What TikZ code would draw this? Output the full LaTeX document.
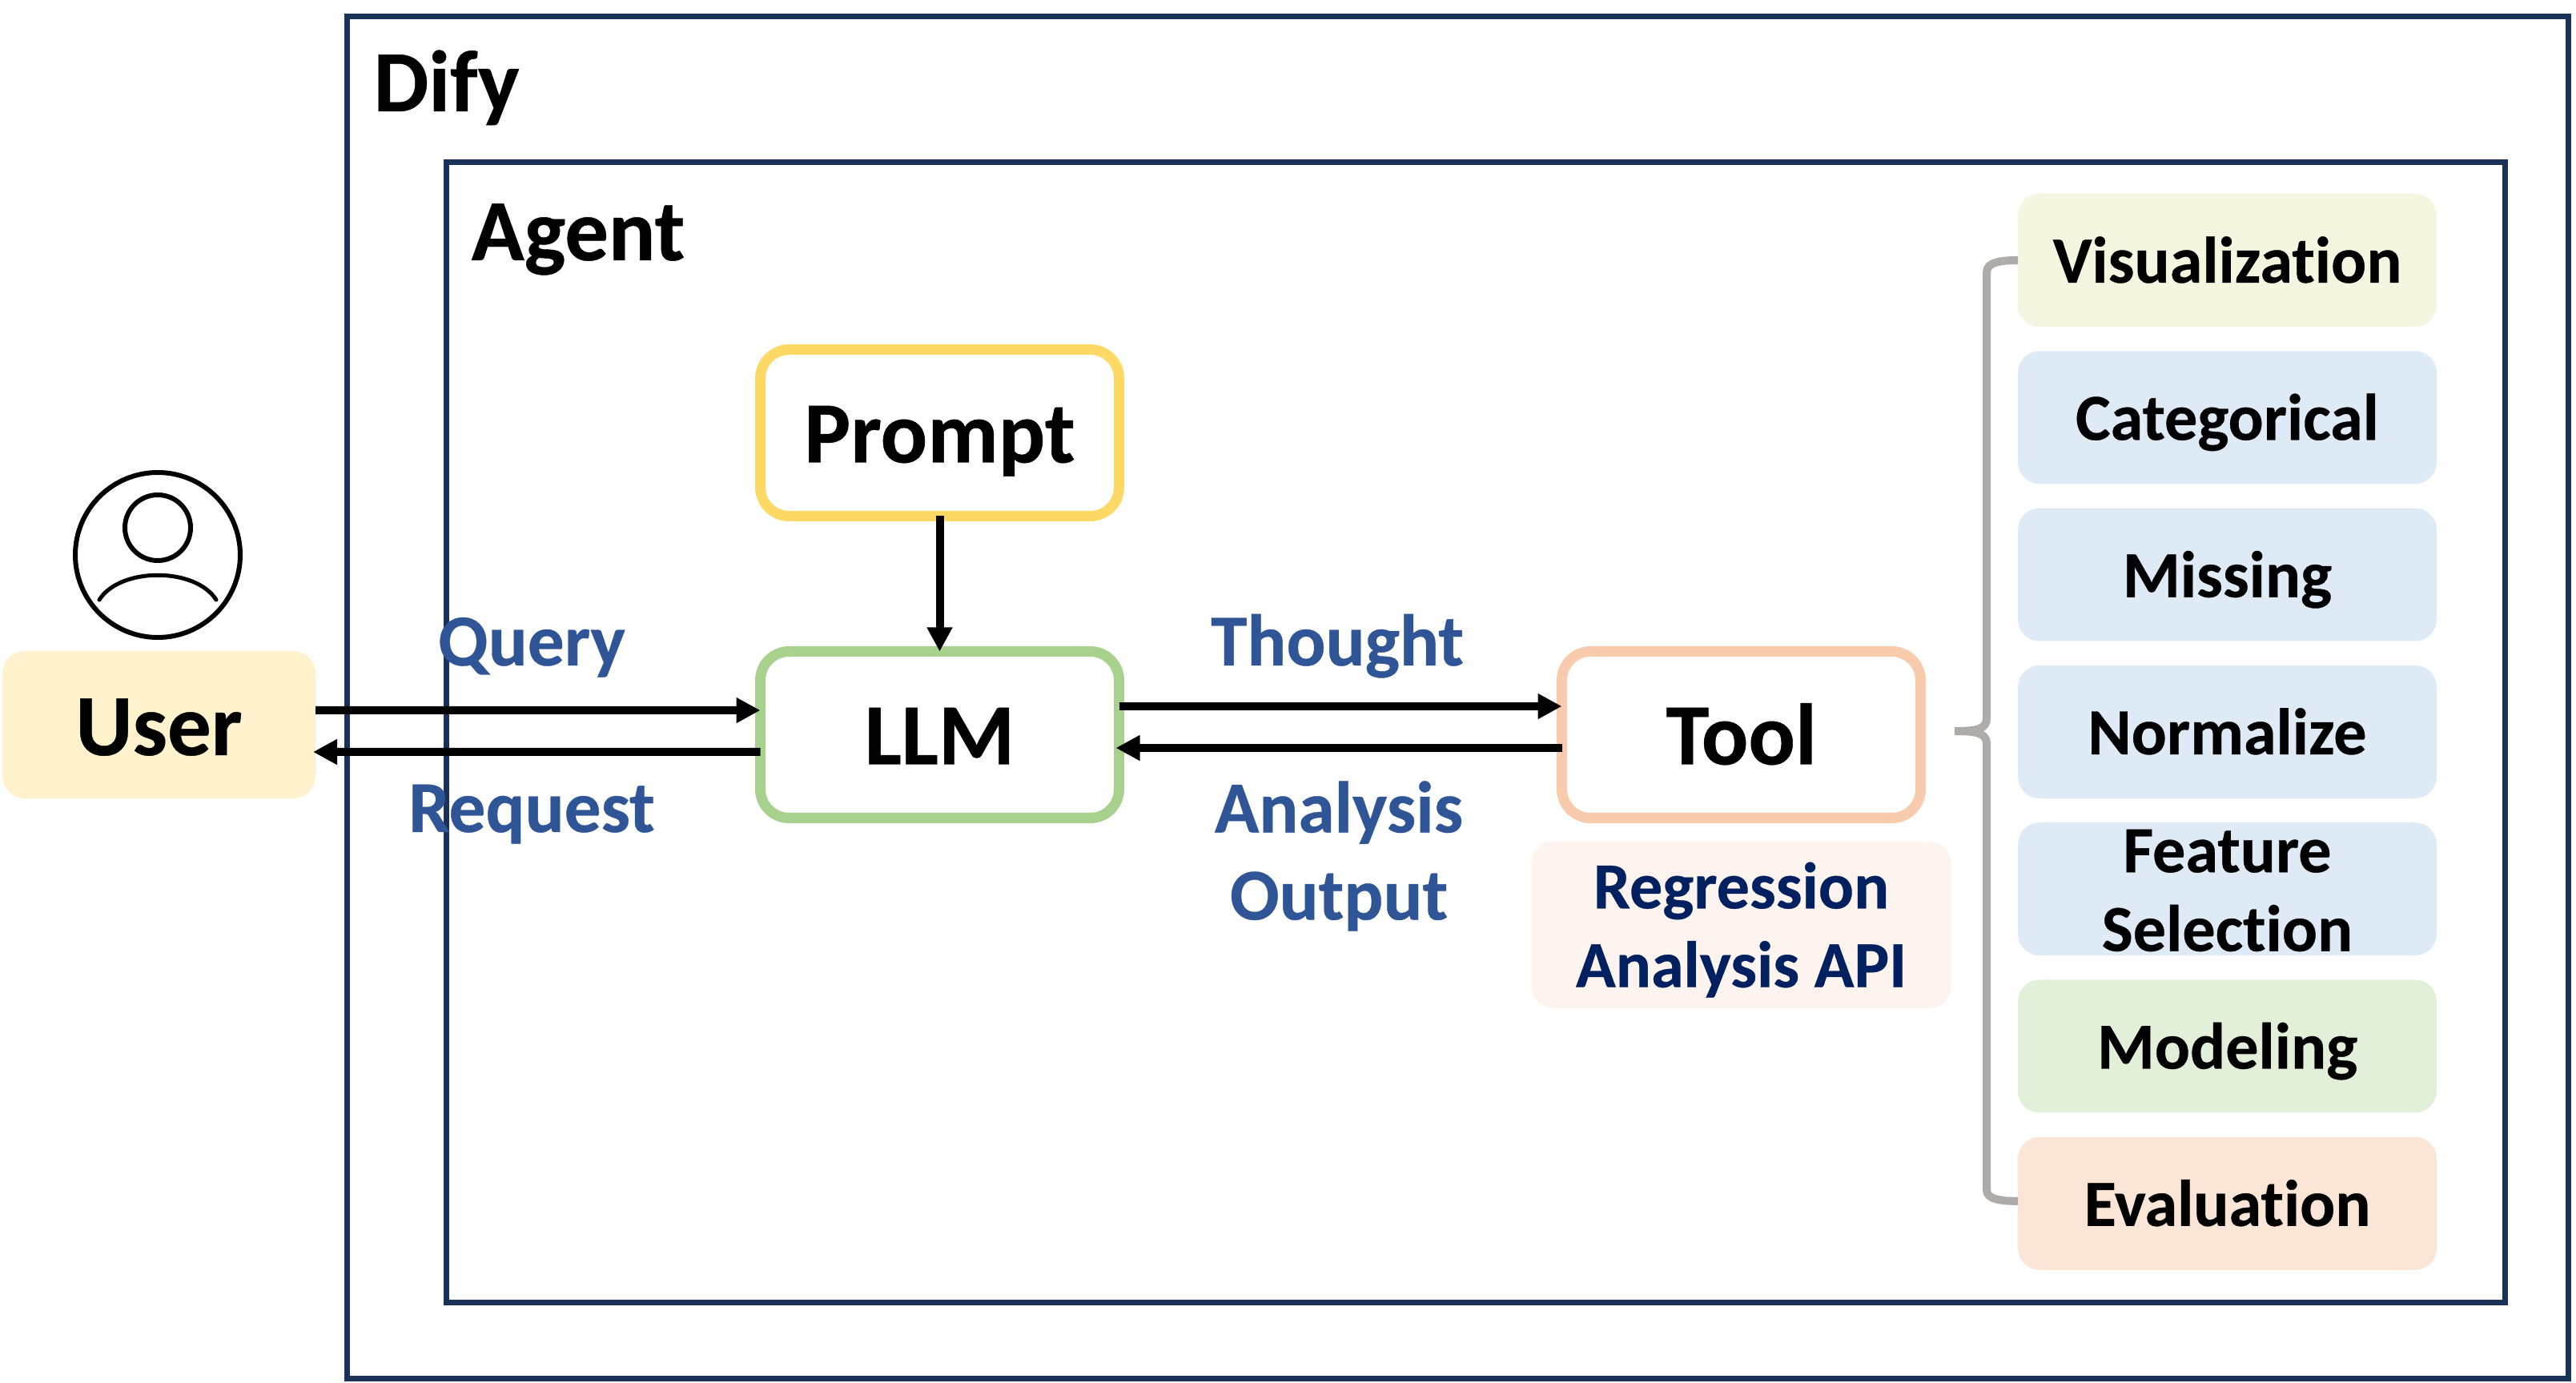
\documentclass[tikz,border=0pt]{standalone}
\usepackage{fontspec}
\setmainfont{Carlito}[Ligatures=CommonOff,BoldFeatures={FakeBold=0.4}]
\usetikzlibrary{positioning,arrows.meta}
\definecolor{framecol}{HTML}{1A3158}
\definecolor{labelcol}{HTML}{2F5597}
\definecolor{apicol}{HTML}{002060}
\definecolor{bracecol}{HTML}{AFABAB}
\definecolor{usercol}{HTML}{FFF2CC}
\definecolor{promptcol}{HTML}{FFD966}
\definecolor{llmcol}{HTML}{A9D18E}
\definecolor{toolcol}{HTML}{F8CBAD}
\definecolor{vizcol}{HTML}{F5F5E0}
\definecolor{prepcol}{HTML}{DEEBF7}
\definecolor{modelcol}{HTML}{E2F0D9}
\definecolor{evalcol}{HTML}{FBE5D6}
\definecolor{apifill}{HTML}{FDF4EF}
\tikzset{
  frame/.style={draw=framecol,line width=0.07cm,inner sep=0pt,outer sep=0pt},
  title/.style={anchor=base west,inner sep=0pt,font=\fontsize{31}{36}\selectfont\bfseries},
  comp/.style={draw=#1,fill=white,line width=0.13cm,rounded corners=0.36cm,minimum width=4.48cm,
    minimum height=2.08cm,inner sep=0pt,outer sep=0pt,text height=0.74cm,text depth=0pt,
    font=\fontsize{31}{36}\selectfont\bfseries},
  func/.style={fill=#1,rounded corners=0.27cm,minimum width=5.23cm,minimum height=1.66cm,
    inner sep=0pt,outer sep=0pt,text height=0.56cm,text depth=0pt,
    font=\fontsize{23.4}{28}\selectfont\bfseries},
  flowlabel/.style={anchor=base,inner sep=0pt,text=labelcol,font=\fontsize{26}{31}\selectfont\bfseries},
  flow/.style={line width=0.1cm,-{Triangle[length=0.3cm,width=0.3cm]}},
  icon/.style={circle,draw=black,line width=0.06cm,inner sep=0pt},
  bracket/.style={draw=bracecol,line width=0.1cm}
}
\begin{document}
\begin{tikzpicture}[x=1cm,y=-1cm]
\useasboundingbox (0,0) rectangle (32.17,17.27);
\node[frame,minimum width=27.74cm,minimum height=17cm] (dify) at (18.2,8.71) {};
\node[frame,minimum width=25.71cm,minimum height=14.23cm] (agent) at (18.425,9.145) {};
\node[title] (difytitle) at (4.66,1.39) {Dify};
\node[title] (agenttitle) at (5.88,3.25) {Agent};

\node[icon,minimum size=2.06cm] (usericon) at (1.97,6.93) {};
\node[icon,minimum size=0.82cm] (userhead) at (1.97,6.59) {};
\draw[line width=0.05cm,line cap=round] (1.24,7.49) .. controls (1.5,7.08) and (2.44,7.08) .. (2.70,7.49);
\node[fill=usercol,rounded corners=0.28cm,minimum width=3.91cm,minimum height=1.84cm,inner sep=0pt,outer sep=0pt,
  text height=0.76cm,text depth=0pt,font=\fontsize{31}{36}\selectfont\bfseries] (user) at (1.985,9.05) {User};

\node[comp=promptcol] (prompt) at (11.735,5.405) {Prompt};
\node[comp=llmcol,below=1.69cm of prompt] (llm) {LLM};
\node[comp=toolcol,right=5.53cm of llm] (tool) {Tool};
\node[fill=apifill,rounded corners=0.27cm,minimum width=5.24cm,minimum height=2.08cm,inner sep=0pt,outer sep=0pt,
  text=apicol,align=center,font=\fontsize{23.4}{28}\selectfont\bfseries,below=0.295cm of tool] (api)
  {\baselineskip=1cm \rule{0pt}{0.7cm}Regression\\Analysis API};

\node[func=vizcol] (viz) at (27.815,3.25) {Visualization};
\node[func=prepcol,below=0.303cm of viz] (categorical) {Categorical};
\node[func=prepcol,below=0.303cm of categorical] (missing) {Missing};
\node[func=prepcol,below=0.303cm of missing] (normalize) {Normalize};
\node[func=prepcol,below=0.303cm of normalize,align=center,text height=,text depth=] (feature)
  {\baselineskip=0.99cm \rule{0pt}{0.57cm}Feature\\Selection};
\node[func=modelcol,below=0.303cm of feature] (modeling) {Modeling};
\node[func=evalcol,below=0.303cm of modeling] (evaluation) {Evaluation};

\draw[flow] (prompt.south) -- (llm.north);
\draw[flow] ([yshift=0.18cm]user.east) -- ([yshift=0.305cm]llm.west);
\draw[flow] ([yshift=-0.215cm]llm.west) -- ([xshift=-0.03cm,yshift=-0.34cm]user.east);
\draw[flow] ([yshift=0.355cm]llm.east) -- ([yshift=0.355cm]tool.west);
\draw[flow] ([yshift=-0.165cm]tool.west) -- ([xshift=-0.04cm,yshift=-0.165cm]llm.east);

\node[flowlabel] (query) at (6.64,8.31) {Query};
\node[flowlabel] (request) at (6.64,10.39) {Request};
\node[flowlabel] (thought) at (16.7,8.31) {Thought};
\node[flowlabel,align=center,anchor=center] (output) at (16.72,10.69)
  {\baselineskip=1.09cm Analysis\\Output};

\coordinate (bracetip) at (24.41,9.13);
\draw[bracket] (viz.west) .. controls (25.0,3.25) and (24.81,3.27) .. (24.81,3.4) -- (24.81,8.97)
  .. controls (24.81,9.1) and (24.7,9.13) .. (bracetip)
  .. controls (24.7,9.13) and (24.81,9.16) .. (24.81,9.29) -- (24.81,14.86)
  .. controls (24.81,14.98) and (25.0,15.0) .. ([yshift=0.03cm]evaluation.west);
\end{tikzpicture}
\end{document}
